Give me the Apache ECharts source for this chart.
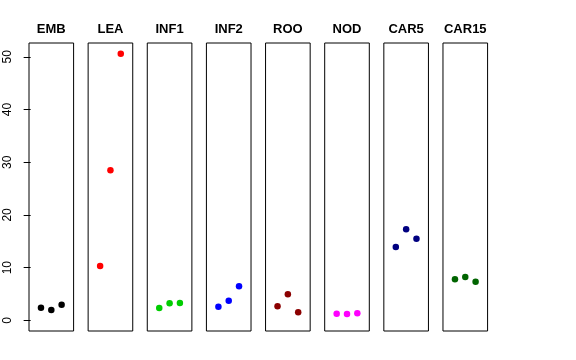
<!DOCTYPE html>
<html><head><meta charset="utf-8">
<script src="https://cdn.jsdelivr.net/npm/echarts@6/dist/echarts.min.js"></script>
<style>html,body{margin:0;padding:0;background:#fff}#c{width:576px;height:360px}</style>
</head><body><div id="c"></div>
<script>
const categories = ["EMB","LEA","INF1","INF2","ROO","NOD","CAR5","CAR15"];
const xPositions = [1,2,3];
const emb  = [2.4, 1.96, 2.97];
const lea  = [10.3, 28.5, 50.6];
const inf1 = [2.34, 3.23, 3.29];
const inf2 = [2.59, 3.73, 6.46];
const roo  = [2.66, 4.94, 1.52];
const nod  = [1.25, 1.2, 1.33];
const car5 = [13.9, 17.3, 15.5];
const car15= [7.8, 8.23, 7.34];
const yTicks = [0,10,20,30,40,50];
const colors = ["#000000","#FF0000","#00CD00","#0000FF","#8B0000","#FF00FF","#000080","#006400"];
const seriesValues = [emb, lea, inf1, inf2, roo, nod, car5, car15];

const ylo = -2.02, yhi = 52.62, xlo = -0.16, xhi = 4.16;
const L0 = 29, step = 59.14, W = 44.6, T = 43, H = 288;
const grids=[], xAxes=[], yAxes=[], series=[], titles=[];
categories.forEach((name,i)=>{
  const left = L0 + step*i;
  grids.push({left:left, top:T, width:W, height:H, show:true, borderColor:'#000', borderWidth:1, backgroundColor:'transparent', containLabel:false});
  xAxes.push({gridIndex:i, type:'value', min:xlo, max:xhi, show:false});
  yAxes.push({gridIndex:i, type:'value', min:ylo, max:yhi, show:i===0,
    splitLine:{show:false},
    axisLine:{show:false},
    axisTick:{show:true, length:7, lineStyle:{color:'#000'}, customValues:yTicks},
    axisLabel:{show:true, rotate:90, margin:15, fontSize:12, color:'#000', fontFamily:'Liberation Sans, Arial, sans-serif', customValues:yTicks}
  });
  series.push({type:'scatter', xAxisIndex:i, yAxisIndex:i, symbol:'circle', symbolSize:6.5,
    itemStyle:{color:colors[i], opacity:1}, silent:true,
    data: xPositions.map((x,k)=>[x, seriesValues[i][k]])});
  titles.push({text:name, left:left+W/2, top:23, textAlign:'center', padding:0,
    textStyle:{fontSize:13, fontWeight:'bold', color:'#000', fontFamily:'Liberation Sans, Arial, sans-serif'}});
});
const chart = echarts.init(document.getElementById('c'), null, {renderer:'canvas'});
chart.setOption({animation:false, backgroundColor:'#fff', title:titles, grid:grids, xAxis:xAxes, yAxis:yAxes, series:series});
</script></body></html>
